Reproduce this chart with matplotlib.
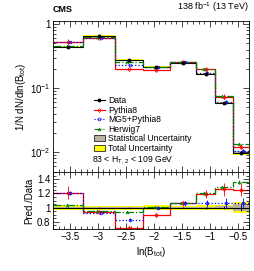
import matplotlib
matplotlib.use('Agg')
import matplotlib.pyplot as plt
from matplotlib.lines import Line2D
from matplotlib.patches import Patch
from matplotlib.ticker import MultipleLocator, LogLocator, NullFormatter
import numpy as np

plt.rcParams['font.family'] = ['Liberation Sans', 'DejaVu Sans']
plt.rcParams['mathtext.fontset'] = 'custom'
plt.rcParams['mathtext.rm'] = 'Liberation Sans'
plt.rcParams['mathtext.it'] = 'Liberation Sans'

# bin edges in ln(B_tot)
edges = np.array([-3.8, -3.26, -2.7, -2.2, -1.71, -1.24, -0.91, -0.58, -0.3])

# normalised data
data = np.array([0.44, 0.656, 0.274, 0.212, 0.243, 0.165, 0.058, 0.0098])
stat_rel = np.array([0.01, 0.01, 0.01, 0.01, 0.01, 0.015, 0.02, 0.05])
tot_rel = np.array([0.04, 0.03, 0.03, 0.04, 0.03, 0.04, 0.035, 0.08])

# prediction / data
r_pythia = np.array([1.21, 0.94, 0.72, 0.90, 1.06, 1.19, 1.26, 1.25])
r_mg5 = np.array([1.21, 0.92, 0.83, 1.00, 1.06, 1.06, 1.06, 1.06])
r_herwig = np.array([1.04, 0.95, 0.94, 1.01, 1.06, 1.20, 1.29, 1.36])
e_pythia = np.array([0.09, 0.02, 0.02, 0.03, 0.03, 0.06, 0.09, 0.09])
e_mg5 = np.array([0.03, 0.01, 0.02, 0.02, 0.03, 0.05, 0.07, 0.08])
e_herwig = np.array([0.01, 0.01, 0.01, 0.01, 0.01, 0.02, 0.02, 0.03])

centers = 0.5 * (edges[1:] + edges[:-1])

fig = plt.figure(figsize=(2.54, 2.71), dpi=100)
ax1 = fig.add_axes([0.209, 0.365, 0.771, 0.557])
ax2 = fig.add_axes([0.209, 0.155, 0.771, 0.210], sharex=ax1)

stat_col = '#b8b4a0'
yel = '#ffff00'

models = [
    ('Pythia8', r_pythia, e_pythia, 'red', '-', 'D', 0.0),
    ('MG5+Pythia8', r_mg5, e_mg5, 'blue', ':', 'o', 0.03),
    ('Herwig7', r_herwig, e_herwig, 'green', '-.', '^', -0.03),
]

# top panel
ax1.stairs(data * (1 + tot_rel), edges, baseline=data * (1 - tot_rel), fill=True, color=yel, lw=0)
ax1.stairs(data * (1 + stat_rel), edges, baseline=data * (1 - stat_rel), fill=True, color=stat_col, lw=0)
ax1.stairs(data, edges, color='black', lw=0.8, baseline=None)
for name, r, e, c, ls, m, off in models:
    pred = data * r
    ax1.stairs(pred, edges, color=c, lw=0.9, ls=ls, baseline=None)
    ax1.errorbar(centers + off, pred, yerr=pred * e, fmt=m, color=c, mfc='none', ms=2.0, mew=0.5, elinewidth=0.6, capsize=0)
ax1.errorbar(centers, data, yerr=data * stat_rel, fmt='o', color='black', ms=1.8, elinewidth=0.6, capsize=0)

ax1.set_yscale('log')
ax1.set_ylim(4.9e-3, 1.11)
ax1.set_xlim(-3.8, -0.3)
ax1.set_ylabel('1/N dN/dln(B$_{\\mathrm{tot}}$)', fontsize=7, labelpad=1)
ax1.set_yticks([1e-2, 1e-1, 1])
ax1.set_yticklabels(['$10^{-2}$', '$10^{-1}$', '1'])
ax1.yaxis.set_minor_locator(LogLocator(base=10, subs=np.arange(2, 10)))
ax1.yaxis.set_minor_formatter(NullFormatter())
plt.setp(ax1.get_xticklabels(), visible=False)

handles = [
    Line2D([], [], color='black', marker='o', ms=1.8, lw=0.8),
    Line2D([], [], color='red', marker='D', mfc='none', ms=2.0, mew=0.5, lw=0.8),
    Line2D([], [], color='blue', ls=':', marker='o', mfc='none', ms=2.0, mew=0.5, lw=0.8),
    Line2D([], [], color='green', ls='-.', marker='^', mfc='none', ms=2.0, mew=0.5, lw=0.8),
    Patch(facecolor=stat_col, edgecolor='black', lw=0.5),
    Patch(facecolor=yel, edgecolor='black', lw=0.5),
]
labels = ['Data', 'Pythia8', 'MG5+Pythia8', 'Herwig7', 'Statistical Uncertainty', 'Total Uncertainty']
ax1.legend(handles, labels, loc='upper left', bbox_to_anchor=(0.18, 0.535), frameon=False,
           fontsize=6.2, handlelength=1.3, handletextpad=0.4, labelspacing=0.05, borderpad=0.1)
ax1.text(0.2, 0.08, '83 < H$_{\\mathrm{T,2}}$ < 109 GeV', transform=ax1.transAxes, fontsize=6.2, va='center')

fig.text(0.209, 0.948, 'CMS', fontsize=6.5, fontweight='bold', ha='left', va='bottom')
fig.text(0.98, 0.948, '138 fb$^{-1}$ (13 TeV)', fontsize=6.5, ha='right', va='bottom')

# ratio panel
ax2.stairs(1 + tot_rel, edges, baseline=1 - tot_rel, fill=True, color=yel, lw=0)
ax2.stairs(1 + stat_rel, edges, baseline=1 - stat_rel, fill=True, color=stat_col, lw=0)
ax2.axhline(1.0, color='black', lw=0.8)
for name, r, e, c, ls, m, off in models:
    ax2.stairs(r, edges, color=c, lw=0.9, ls=ls, baseline=None)
    ax2.errorbar(centers + off, r, yerr=e, fmt=m, color=c, mfc='none', ms=2.0, mew=0.5, elinewidth=0.6, capsize=0)
ax2.errorbar(centers, np.ones_like(data), yerr=stat_rel, fmt='none', ecolor='black', elinewidth=0.6, capsize=0)

ax2.set_ylim(0.7, 1.5)
ax2.set_yticks([0.8, 1.0, 1.2, 1.4])
ax2.set_yticklabels(['0.8', '1', '1.2', '1.4'])
ax2.yaxis.set_minor_locator(MultipleLocator(0.05))
ax2.set_ylabel('Pred./Data', fontsize=7, labelpad=2)
ax2.set_xlabel('ln(B$_{\\mathrm{tot}}$)', fontsize=7, labelpad=2)
ax2.set_xticks([-3.5, -3, -2.5, -2, -1.5, -1, -0.5])
ax2.set_xticklabels(['\u22123.5', '\u22123', '\u22122.5', '\u22122', '\u22121.5', '\u22121', '\u22120.5'])
ax2.xaxis.set_minor_locator(MultipleLocator(0.1))

for ax in (ax1, ax2):
    ax.tick_params(which='both', direction='in', top=True, right=True, labelsize=7, width=0.5, pad=2)
    ax.tick_params(which='major', length=4)
    ax.tick_params(which='minor', length=2)
    for s in ax.spines.values():
        s.set_linewidth(0.6)

fig.savefig('out.png', dpi=100)
